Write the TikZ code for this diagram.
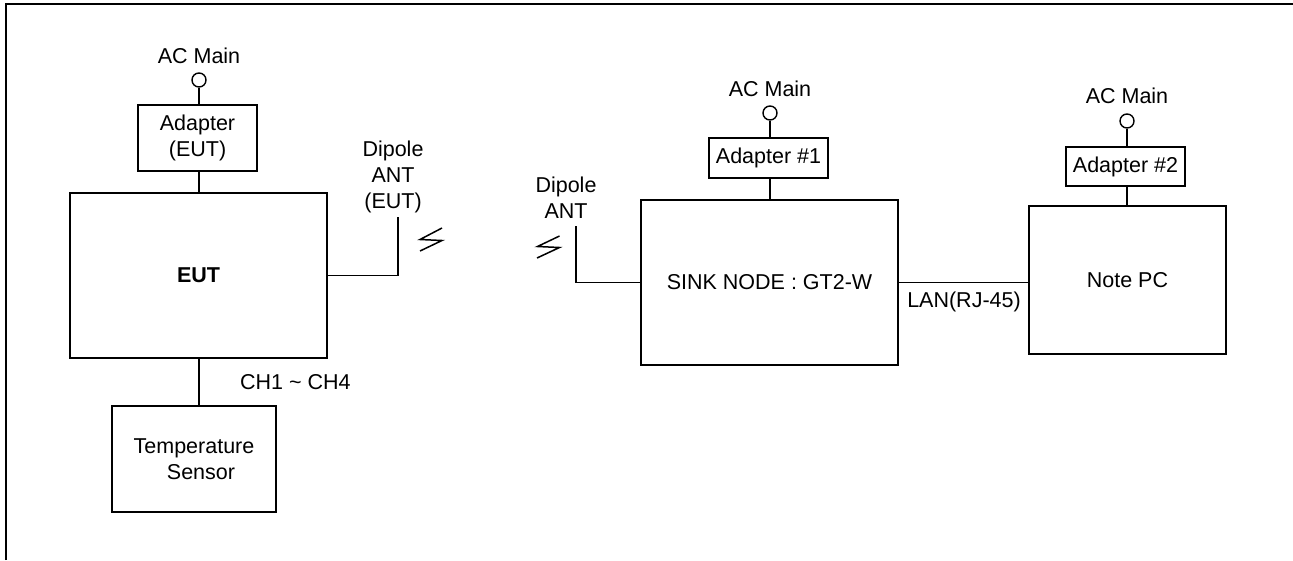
\documentclass[tikz,border=0pt]{standalone}
\usepackage{fontspec}
\setmainfont{Liberation Sans}
\begin{document}
\begin{tikzpicture}[x=1pt,y=-1pt,
  box/.style={draw,line width=1.6pt,minimum width=#1,inner sep=0pt,align=center,font=\fontsize{21.5}{26}\selectfont},
  lbl/.style={inner sep=0pt,align=center,font=\fontsize{21.5}{26}\selectfont},
  wire/.style={line width=1.6pt},
  plug/.style={circle,draw,line width=1.4pt,minimum size=14pt,inner sep=0pt}]
\useasboundingbox (0,0) rectangle (1293,560);
\draw[line width=2.4pt] (6,560) -- (6,4) -- (1293,4);
% left side
\node[lbl] (acL) at (199,56) {AC Main};
\node[plug] (cL) at (199,80) {};
\node[box=119pt,minimum height=66pt] (adL) at (197.5,138) {Adapter\\(EUT)};
\node[box=257pt,minimum height=165pt,font=\fontsize{21.5}{26}\selectfont\bfseries] (eut) at (198.5,275.5) {EUT};
\node[box=164pt,minimum height=106pt] (temp) at (194,459) {Temperature\\\hspace*{14pt}Sensor};
\node[lbl,anchor=west] (ch) at (240,382) {CH1 \textasciitilde{} CH4};
\node[lbl] (dipL) at (393,177) {Dipole\\ANT\\(EUT)};
\coordinate (antL) at (398,217);
\draw[wire] (cL) -- (cL |- adL.north);
\draw[wire] (adL.south -| cL) -- (cL |- eut.north);
\draw[wire] (cL |- eut.south) -- (cL |- temp.north);
\draw[wire] (eut.east) -| (antL);
\draw[line width=1.5pt] (442,228) -- (420,239.5) -- (442,240.5) -- (420,251);
% right side
\draw[line width=1.5pt] (559.5,236) -- (537.5,246.5) -- (559.5,247.5) -- (537,258);
\node[lbl] (dipR) at (566,198) {Dipole\\ANT};
\coordinate (antR) at (576,226);
\node[box=257pt,minimum height=165pt] (sink) at (769.5,282.5) {SINK NODE : GT2-W};
\draw[wire] (antR) |- (sink.west);
\node[lbl] (ac1) at (770,89) {AC Main};
\node[plug] (c1) at (770,113) {};
\node[box=119pt,minimum height=40pt] (ad1) at (768.5,158) {Adapter \#1};
\draw[wire] (c1) -- (c1 |- ad1.north);
\draw[wire] (c1 |- ad1.south) -- (c1 |- sink.north);
\node[box=197pt,minimum height=148pt] (pc) at (1127.5,280) {Note PC};
\node[lbl] (ac2) at (1127,96) {AC Main};
\node[plug] (c2) at (1127,121) {};
\node[box=119pt,minimum height=39pt] (ad2) at (1125.5,166.5) {Adapter \#2};
\draw[wire] (c2) -- (c2 |- ad2.north);
\draw[wire] (c2 |- ad2.south) -- (c2 |- pc.north);
\draw[wire] (sink.east) -- (sink.east -| pc.west);
\node[lbl] (lan) at (964,302) {LAN(RJ-45)};
\end{tikzpicture}
\end{document}
